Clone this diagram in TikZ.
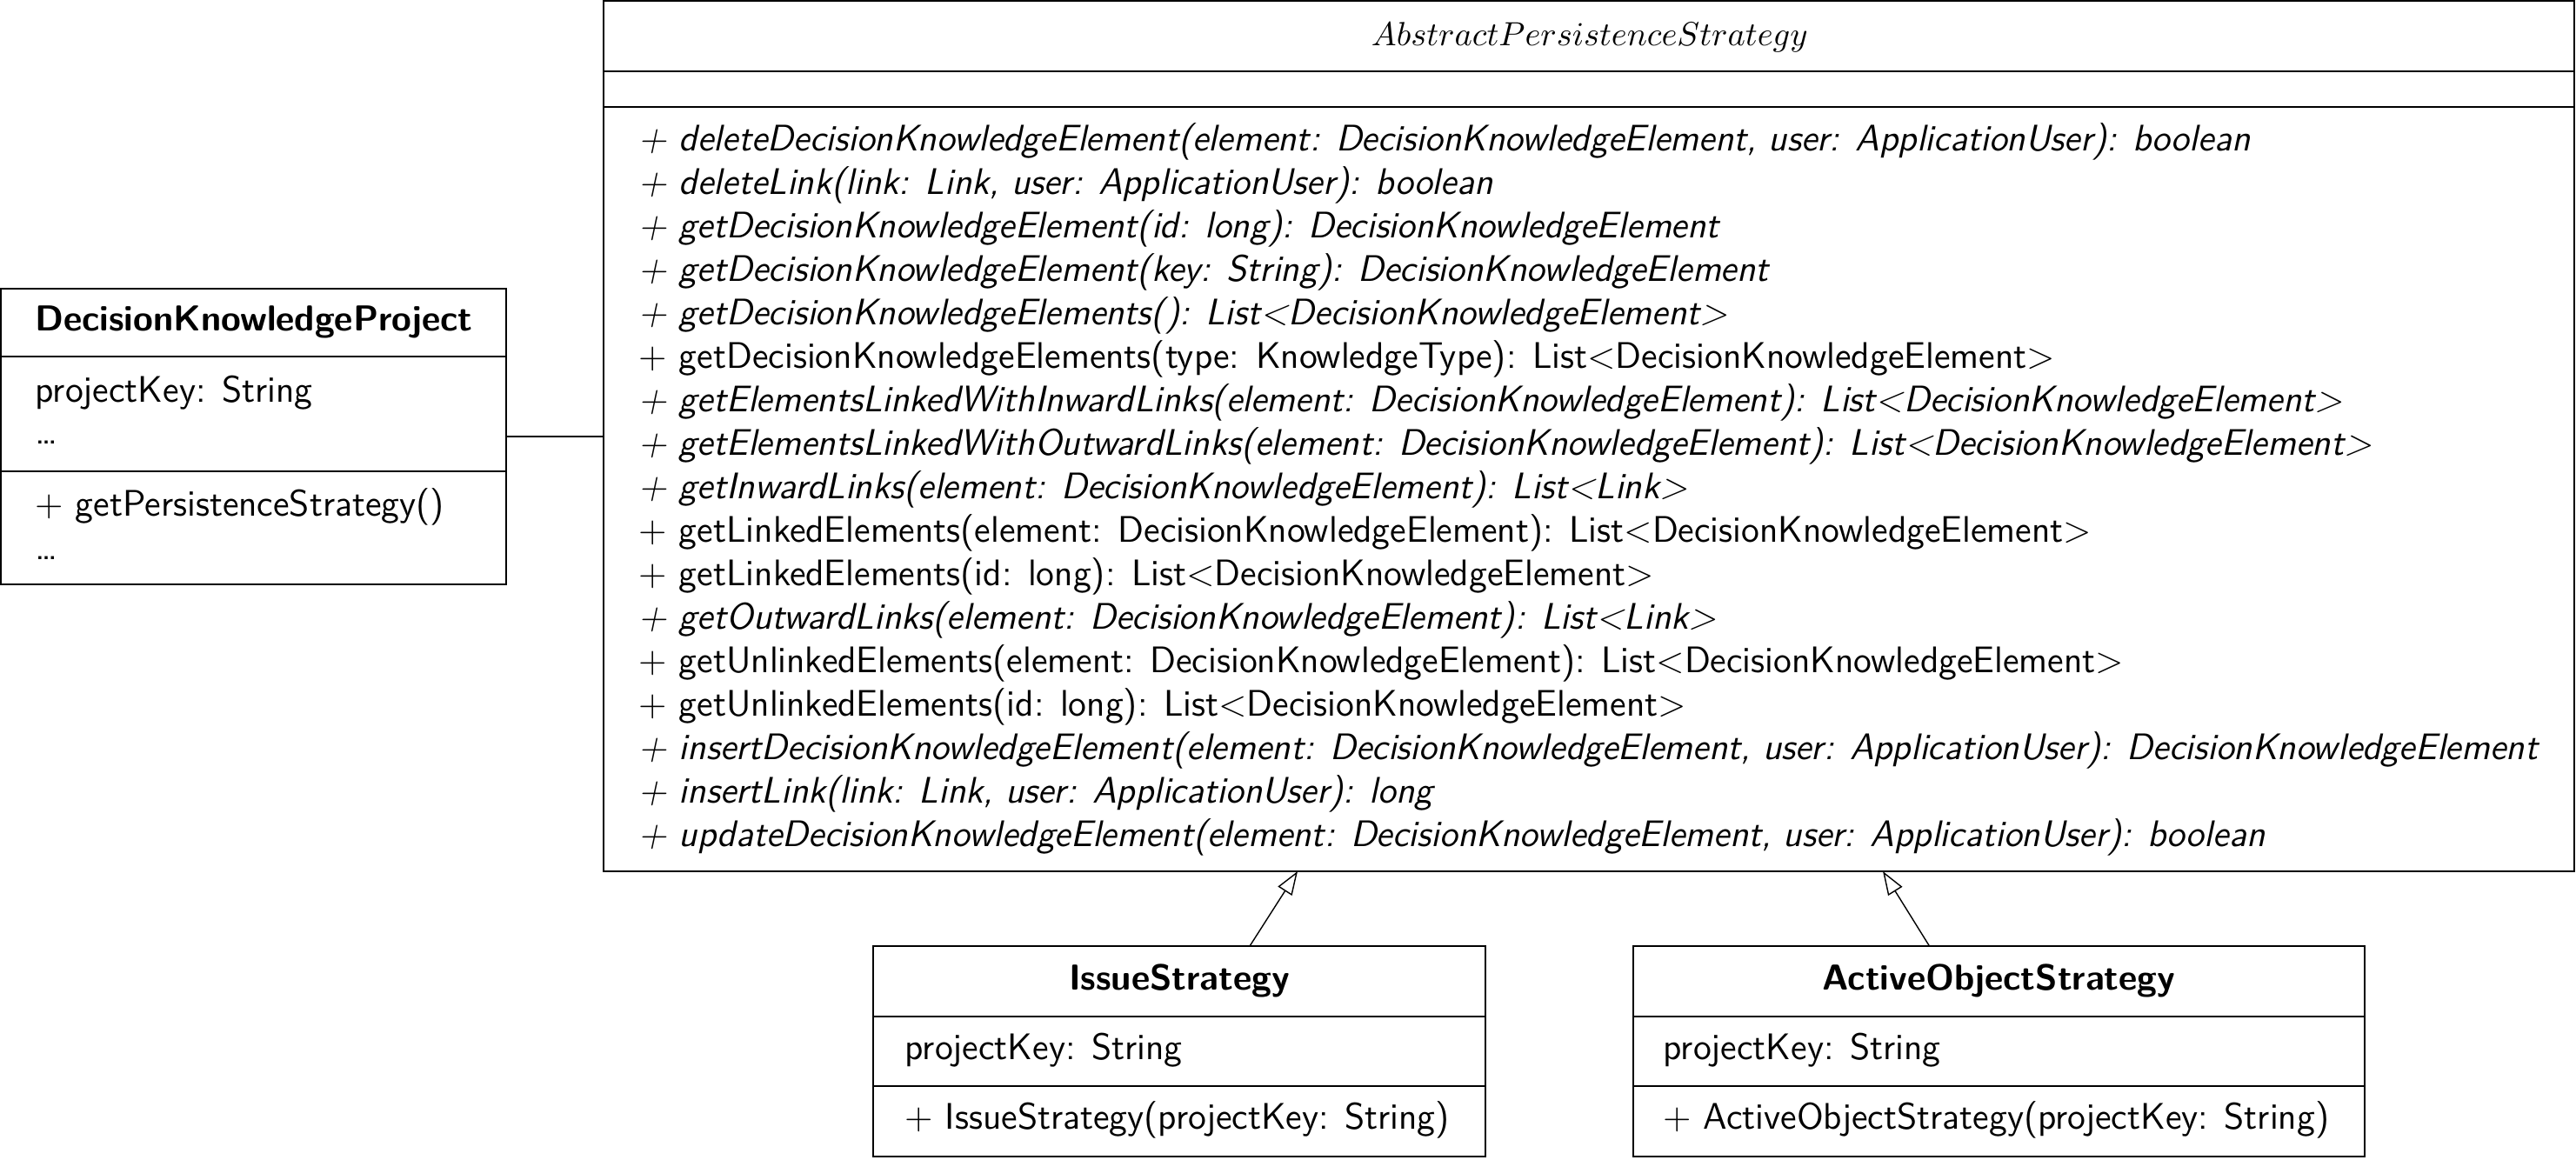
\documentclass[tikz,border=0pt]{standalone}
\usetikzlibrary{arrows.meta,positioning}

\tikzset{
  classbox/.style={draw,thick,rectangle,inner sep=0pt,outer sep=0pt},
  member/.style={anchor=base west,inner sep=0pt,font=\sffamily\fontsize{12.1}{14}\selectfont},
  classname/.style={anchor=base,inner sep=0pt,font=\sffamily\bfseries\fontsize{11.8}{14}\selectfont},
  inherit/.style={-{Triangle[open,length=0.27cm,width=0.19cm]}}
}

\begin{document}
\begin{tikzpicture}
	\useasboundingbox (0,0) rectangle (29.62,-13.33);

	% abstract class
	\node[classbox,minimum width=22.66cm,minimum height=10.01cm] (aps) at (18.27,-5.015) {};
	\draw[thick] ([yshift=-0.81cm]aps.north west) -- ([yshift=-0.81cm]aps.north east);
	\draw[thick] ([yshift=-1.22cm]aps.north west) -- ([yshift=-1.22cm]aps.north east);
	\node[anchor=base,inner sep=0pt,font=\fontsize{11}{13}\selectfont] (apsname) at (18.28,-0.52) {$AbstractPersistenceStrategy$};
	\foreach \txt [count=\i] in {
		{\itshape + deleteDecisionKnowledgeElement(element: DecisionKnowledgeElement, user: ApplicationUser): boolean},
		{\itshape + deleteLink(link: Link, user: ApplicationUser): boolean},
		{\itshape + getDecisionKnowledgeElement(id: long): DecisionKnowledgeElement},
		{\itshape + getDecisionKnowledgeElement(key: String): DecisionKnowledgeElement},
		{\itshape + getDecisionKnowledgeElements(): List<DecisionKnowledgeElement>},
		{+ getDecisionKnowledgeElements(type: KnowledgeType): List<DecisionKnowledgeElement>},
		{\itshape + getElementsLinkedWithInwardLinks(element: DecisionKnowledgeElement): List<DecisionKnowledgeElement>},
		{\itshape + getElementsLinkedWithOutwardLinks(element: DecisionKnowledgeElement): List<DecisionKnowledgeElement>},
		{\itshape + getInwardLinks(element: DecisionKnowledgeElement): List<Link>},
		{+ getLinkedElements(element: DecisionKnowledgeElement): List<DecisionKnowledgeElement>},
		{+ getLinkedElements(id: long): List<DecisionKnowledgeElement>},
		{\itshape + getOutwardLinks(element: DecisionKnowledgeElement): List<Link>},
		{+ getUnlinkedElements(element: DecisionKnowledgeElement): List<DecisionKnowledgeElement>},
		{+ getUnlinkedElements(id: long): List<DecisionKnowledgeElement>},
		{\itshape + insertDecisionKnowledgeElement(element: DecisionKnowledgeElement, user: ApplicationUser): DecisionKnowledgeElement},
		{\itshape + insertLink(link: Link, user: ApplicationUser): long},
		{\itshape + updateDecisionKnowledgeElement(element: DecisionKnowledgeElement, user: ApplicationUser): boolean}}
		\node[member] (m\i) at (7.34,{-1.73-0.5*(\i-1)}) {\txt};

	% project
	\node[classbox,minimum width=5.81cm,minimum height=3.40cm] (dkp) at (2.915,-5.02) {};
	\draw[thick] ([yshift=-0.78cm]dkp.north west) -- ([yshift=-0.78cm]dkp.north east);
	\draw[thick] ([yshift=-2.10cm]dkp.north west) -- ([yshift=-2.10cm]dkp.north east);
	\node[classname] (dkpname) at (2.92,-3.80) {DecisionKnowledgeProject};
	\node[member] (dkpa1) at (0.40,-4.62) {projectKey: String};
	\node[member] (dkpa2) at (0.40,-5.10) {\dots};
	\node[member] (dkpm1) at (0.40,-5.93) {+ getPersistenceStrategy()};
	\node[member] (dkpm2) at (0.40,-6.43) {\dots};

	% subclasses
	\node[classbox,minimum width=7.04cm,minimum height=2.42cm] (issue) at (13.56,-12.09) {};
	\draw[thick] ([yshift=-0.81cm]issue.north west) -- ([yshift=-0.81cm]issue.north east);
	\draw[thick] ([yshift=-1.61cm]issue.north west) -- ([yshift=-1.61cm]issue.north east);
	\node[classname] (issuename) at (13.56,-11.38) {IssueStrategy};
	\node[member] (issuea) at (10.40,-12.18) {projectKey: String};
	\node[member] (issuem) at (10.40,-12.98) {+ IssueStrategy(projectKey: String)};

	\node[classbox,minimum width=8.41cm,minimum height=2.42cm] (aos) at (22.985,-12.09) {};
	\draw[thick] ([yshift=-0.81cm]aos.north west) -- ([yshift=-0.81cm]aos.north east);
	\draw[thick] ([yshift=-1.61cm]aos.north west) -- ([yshift=-1.61cm]aos.north east);
	\node[classname] (aosname) at (22.985,-11.38) {ActiveObjectStrategy};
	\node[member] (aosa) at (19.12,-12.18) {projectKey: String};
	\node[member] (aosm) at (19.12,-12.98) {+ ActiveObjectStrategy(projectKey: String)};

	\draw (dkp.east) -- (dkp.east -| aps.west);
	\draw[inherit] ([xshift=0.81cm]issue.north) -- ([xshift=-3.35cm]aps.south);
	\draw[inherit] ([xshift=-0.80cm]aos.north) -- ([xshift=3.38cm]aps.south);
\end{tikzpicture}
\end{document}
